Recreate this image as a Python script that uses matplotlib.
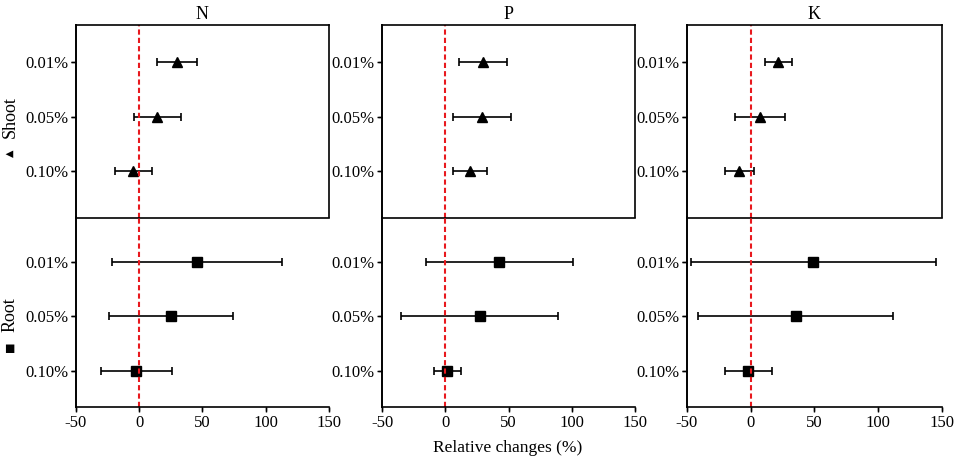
import matplotlib.pyplot as plt
import matplotlib.transforms as mtransforms
from matplotlib.lines import Line2D

plt.rcdefaults()
plt.rcParams['font.family'] = ['Liberation Serif', 'DejaVu Sans']

# Relative changes (%): mean, lower and upper CI
levels = ['0.01%', '0.05%', '0.10%']
nutrients = ['N', 'P', 'K']
xticks = [-50, 0, 50, 100, 150]

shoot_mean = {'N': [29.9, 14.5, -4.5], 'P': [29.8, 29.1, 19.4], 'K': [21.7, 7.6, -8.9]}
shoot_low = {'N': [14.3, -4.2, -19.3], 'P': [10.7, 6.5, 5.8], 'K': [11.0, -12.0, -19.9]}
shoot_high = {'N': [45.5, 33.3, 10.6], 'P': [49.2, 52.1, 33.2], 'K': [32.5, 27.2, 2.6]}

root_mean = {'N': [46.0, 25.1, -2.6], 'P': [42.7, 27.2, 1.6], 'K': [49.0, 35.3, -2.1]}
root_low = {'N': [-21.4, -23.8, -30.2], 'P': [-15.4, -34.8, -9.2], 'K': [-46.9, -40.8, -19.9]}
root_high = {'N': [113.0, 74.0, 25.9], 'P': [100.8, 89.3, 12.6], 'K': [145.3, 111.8, 16.8]}

W, H = 957, 461
fig = plt.figure(figsize=(W / 100, H / 100), dpi=100)

lefts = [75.7, 382, 686.7]
rights = [329, 635, 942]
y_top, y_mid, y_bot = 25, 217.5, 407
frame = []


def draw(ax, mean, low, high, marker, ms):
    pos = list(range(len(levels)))
    xerr = [[m - l for m, l in zip(mean, low)], [h - m for m, h in zip(mean, high)]]
    ax.errorbar(mean, pos, xerr=xerr, fmt=marker, color='black', ms=ms,
                elinewidth=1.2, capsize=2.8, capthick=1.2, zorder=3)
    ax.axvline(0, color='#e8191e', linestyle=(0, (2.5, 1.5)), lw=1.5, zorder=4)
    ax.set_xlim(-50, 150)
    ax.set_yticks(pos)
    ax.set_yticklabels(levels, fontsize=12)
    ax.tick_params(axis='y', left=True, labelleft=True, direction='out',
                   length=3.5, width=1, pad=2, colors='black')
    ax.patch.set_visible(False)
    for s in ax.spines.values():
        s.set_linewidth(1.2)
        s.set_color('black')
        s.set_zorder(5)
    # left axis line and tick marks added on the figure as well
    frame.append(Line2D([0, 0], [0, 1], transform=ax.transAxes, color='black', lw=1.2,
                        solid_capstyle='projecting'))
    shift = mtransforms.ScaledTranslation(-1.75 / 72, 0, fig.dpi_scale_trans)
    ytr = mtransforms.blended_transform_factory(ax.transAxes, ax.transData) + shift
    frame.append(Line2D([0] * len(pos), pos, transform=ytr, linestyle='none', marker='_',
                        ms=3.5, mew=1, color='black'))


for i, nut in enumerate(nutrients):
    l = lefts[i] / W
    w = (rights[i] - lefts[i]) / W
    ax_top = fig.add_axes([l, 1 - y_mid / H, w, (y_mid - y_top) / H])
    ax_bot = fig.add_axes([l, 1 - y_bot / H, w, (y_bot - y_mid) / H])

    draw(ax_top, shoot_mean[nut], shoot_low[nut], shoot_high[nut], '^', 6.5)
    ax_top.set_ylim(2.845, -0.676)
    ax_top.tick_params(axis='x', bottom=False, labelbottom=False)
    ax_top.set_title(nut, fontsize=13, pad=4)

    draw(ax_bot, root_mean[nut], root_low[nut], root_high[nut], 's', 7)
    ax_bot.set_ylim(2.664, -0.808)
    ax_bot.spines['top'].set_visible(False)
    ax_bot.spines['right'].set_visible(False)
    ax_bot.set_xticks(xticks)
    ax_bot.set_xticklabels([str(t) for t in xticks], fontsize=12)
    ax_bot.tick_params(axis='x', bottom=True, labelbottom=True, direction='out',
                       length=3.5, width=1, pad=2, colors='black')
    xshift = mtransforms.ScaledTranslation(0, -1.75 / 72, fig.dpi_scale_trans)
    xtr = mtransforms.blended_transform_factory(ax_bot.transData, ax_bot.transAxes) + xshift
    frame.append(Line2D(xticks, [0] * len(xticks), transform=xtr, linestyle='none',
                        marker='|', ms=3.5, mew=1, color='black'))

for ln in frame:
    ln.set_zorder(10)
    fig.add_artist(ln)

fig.text(508 / W, 1 - 448 / H, 'Relative changes (%)', ha='center', va='center', fontsize=12.5)

# group labels on the left
fig.text(10 / W, 1 - 117 / H, 'Shoot', rotation=90, ha='center', va='center', fontsize=13)
fig.text(10 / W, 1 - 153 / H, '\u25b2', rotation=90, ha='center', va='center', fontsize=7,
         family='DejaVu Sans')
fig.text(10 / W, 1 - 315 / H, 'Root', rotation=90, ha='center', va='center', fontsize=13)
fig.text(10 / W, 1 - 347 / H, '\u25a0', rotation=90, ha='center', va='center', fontsize=8,
         family='DejaVu Sans')

fig.savefig('out.png', dpi=100)
